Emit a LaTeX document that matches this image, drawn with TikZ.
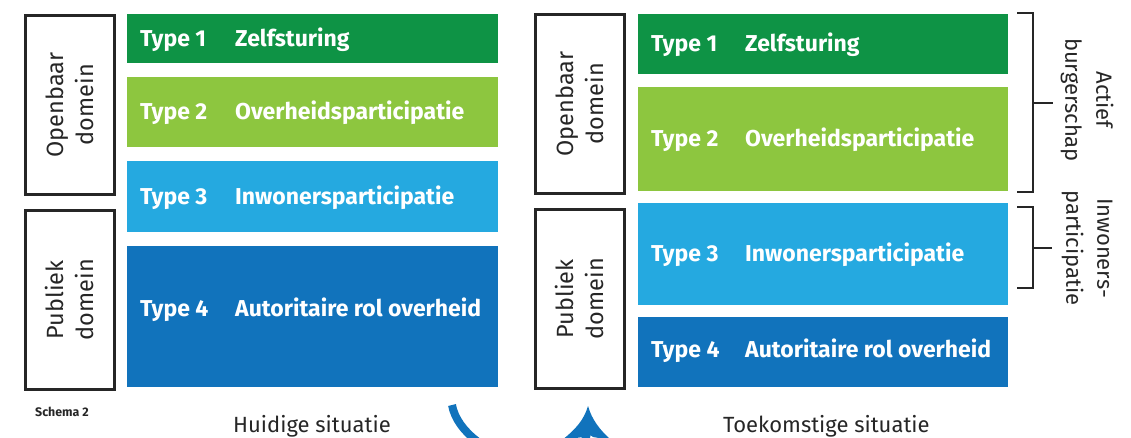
\documentclass[tikz,border=0pt]{standalone}
\usepackage{fontspec}
\setmainfont{Fira Sans}
\begin{document}
\begin{tikzpicture}[x=1pt,y=-1pt,
  bar/.style={anchor=north west, inner sep=0pt, draw=none},
  btext/.style={anchor=base west, inner sep=0pt, text=white, font=\fontsize{23}{26}\selectfont\bfseries},
  dombox/.style={draw=black!85, line width=2.5pt, anchor=north west, inner sep=0pt, minimum width=89pt, minimum height=179pt},
  domtext/.style={rotate=90, align=center, text=black!85, font=\fontsize{23.5}{30}\selectfont},
  brk/.style={draw=black!85, line width=2pt},
  sidetext/.style={rotate=-90, align=center, text=black!85, font=\fontsize{22}{31}\selectfont},
  captext/.style={text=black!85, font=\fontsize{22}{24}\selectfont, inner sep=0pt, anchor=base west}
]
\definecolor{cA}{HTML}{0E9345}
\definecolor{cB}{HTML}{8DC63F}
\definecolor{cC}{HTML}{25A9E0}
\definecolor{cD}{HTML}{1173BC}
\useasboundingbox (0,0) rectangle (1131,437);

% left column
\node[dombox] (lo) at (24,14) {};
\node[domtext] at (lo.center) {Openbaar\\domein};
\node[dombox] (lp) at (24,209) {};
\node[domtext] at (lp.center) {Publiek\\domein};

\node[bar, fill=cA, minimum width=371pt, minimum height=49pt] (l1) at (127,14) {};
\node[bar, fill=cB, minimum width=371pt, minimum height=70pt] (l2) at (127,77) {};
\node[bar, fill=cC, minimum width=371pt, minimum height=71pt] (l3) at (127,161) {};
\node[bar, fill=cD, minimum width=371pt, minimum height=141pt] (l4) at (127,246) {};
\node[btext] at (140,46) {Type 1};
\node[btext] at (235,46) {Zelfsturing};
\node[btext] at (140,119) {Type 2};
\node[btext] at (235,119) {Overheidsparticipatie};
\node[btext] at (140,204) {Type 3};
\node[btext] at (235,204) {Inwonersparticipatie};
\node[btext] at (140,316) {Type 4};
\node[btext] at (235,316) {Autoritaire rol overheid};

% right column
\node[dombox] (ro) at (534,13) {};
\node[domtext] at (ro.center) {Openbaar\\domein};
\node[dombox] (rp) at (534,208) {};
\node[domtext] at (rp.center) {Publiek\\domein};

\node[bar, fill=cA, minimum width=370pt, minimum height=60pt] (r1) at (638,14) {};
\node[bar, fill=cB, minimum width=370pt, minimum height=104pt] (r2) at (638,87) {};
\node[bar, fill=cC, minimum width=370pt, minimum height=102pt] (r3) at (638,203) {};
\node[bar, fill=cD, minimum width=370pt, minimum height=70pt] (r4) at (638,317) {};
\node[btext] at (651,51) {Type 1};
\node[btext] at (745,51) {Zelfsturing};
\node[btext] at (651,146) {Type 2};
\node[btext] at (745,146) {Overheidsparticipatie};
\node[btext] at (651,261) {Type 3};
\node[btext] at (745,261) {Inwonersparticipatie};
\node[btext] at (651,357) {Type 4};
\node[btext] at (745,357) {Autoritaire rol overheid};

% brackets
\coordinate (b1t) at (1017,13);
\coordinate (b1b) at (1017,192);
\coordinate (b1m) at (1053,103);
\draw[brk] (b1t) -- (1033,13) -- (1033,192) -- (b1b);
\draw[brk] (1033,103) -- (b1m);
\coordinate (b2t) at (1017,207);
\coordinate (b2b) at (1017,288);
\coordinate (b2m) at (1052,248);
\draw[brk] (b2t) -- (1033,207) -- (1033,288) -- (b2b);
\draw[brk] (1033,248) -- (b2m);
\node[sidetext] (s1) at (1087,100) {Actief\\burgerschap};
\node[sidetext] (s2) at (1087,248) {Inwoners-\\participatie};

% captions
\node[anchor=base west, inner sep=0pt, text=black!85, font=\fontsize{12.4}{14}\selectfont\bfseries] (sch) at (35,416) {Schema 2};
\node[captext] (hs) at (233,432) {Huidige situatie};
\node[captext] (ts) at (723,432) {Toekomstige situatie};

% arrow (cut off by page edge)
\begin{scope}
\clip (0,0) rectangle (1131,437);
\draw[cD, line width=8pt] (452,405) .. controls (462,460) and (585,495) .. (588,425);
\fill[cD] (588,406) .. controls (592,420) and (600,430) .. (611,440)
  -- (593,437) .. controls (590,434) and (586,434) .. (583,437)
  -- (562,440) .. controls (575,430) and (584,420) .. cycle;
\end{scope}
\end{tikzpicture}
\end{document}
